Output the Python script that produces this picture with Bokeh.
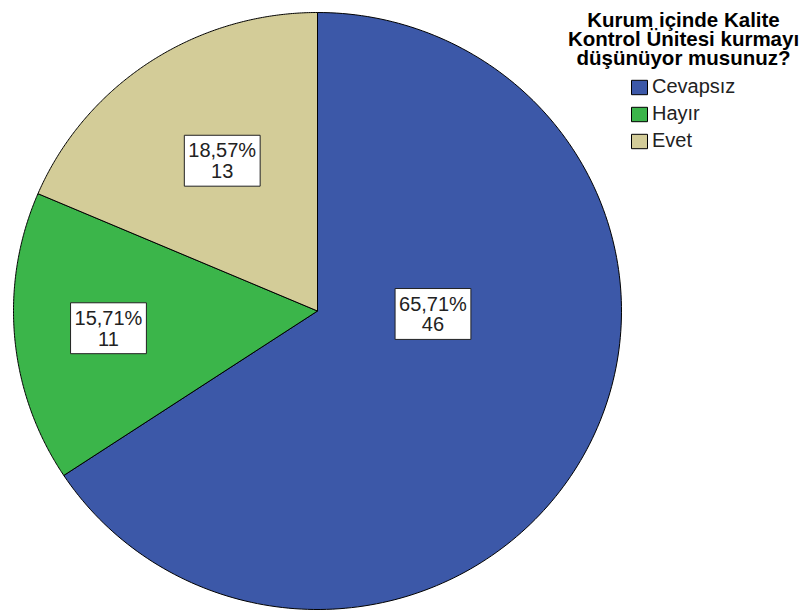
import numpy as np
from bokeh.plotting import figure
from bokeh.models import ColumnDataSource, Range1d, Legend, LegendItem
from bokeh.core.properties import value
from bokeh.embed import file_html
from bokeh.resources import INLINE

# ---- data ----
categories = ["Cevapsız", "Hayır", "Evet"]
counts = [46, 11, 13]
colors = ["#3C58A8", "#3BB54A", "#D3CC98"]
title_lines = ["Kurum içinde Kalite", "Kontrol Ünitesi kurmayı", "düşünüyor musunuz?"]

# ---- layout (pixel-like data space, y downward) ----
W, H = 802, 615
cx, cy, rx, ry = 317.0, 310.5, 304.0, 298.5
label_angle = [91.5, 265.2, 328.1]     # degrees clockwise from 12 o'clock
label_rfrac = [0.38, 0.69, 0.593]

p = figure(width=W, height=H, output_backend="svg", toolbar_location=None,
           x_range=Range1d(0, W), y_range=Range1d(H, 0),
           min_border=0, outline_line_color=None)
p.axis.visible = False
p.grid.visible = False
p.background_fill_color = "white"

total = float(sum(counts))
xs, ys = [], []
start = 0.0
for c in counts:
    sweep = 360.0 * c / total
    th = np.radians(np.linspace(start, start + sweep, 200))
    px = np.concatenate([[cx], cx + rx * np.sin(th), [cx]])
    py = np.concatenate([[cy], cy - ry * np.cos(th), [cy]])
    xs.append(px.tolist())
    ys.append(py.tolist())
    start += sweep

src = ColumnDataSource(dict(xs=xs, ys=ys, cat=categories, color=colors))
pr = p.patches("xs", "ys", source=src, fill_color="color", line_color="black",
               line_width=1)

# slice labels
lx, ly, lt = [], [], []
for c, a, f in zip(counts, label_angle, label_rfrac):
    ar = np.radians(a)
    lx.append(cx + f * rx * np.sin(ar))
    ly.append(cy - f * ry * np.cos(ar))
    pct = f"{100.0 * c / total:.2f}".replace(".", ",")
    lt.append(f"{pct}%\n{c}")
lsrc = ColumnDataSource(dict(x=lx, y=ly, t=lt))
p.text("x", "y", text="t", source=lsrc, text_align="center",
       text_baseline="middle", text_font=value("Liberation Sans"),
       text_font_size="20px", text_color="#222222", text_line_height=0.95,
       background_fill_color="white", border_line_color="#222222",
       border_line_width=1, padding=4)

# legend title
p.text(x=[683], y=[7], text=["\n".join(title_lines)], text_align="center",
       text_baseline="top", text_font=value("Liberation Sans"),
       text_font_style="bold", text_font_size="20.5px", text_color="black",
       text_line_height=0.84)

items = [LegendItem(label=categories[i], renderers=[pr], index=i)
         for i in range(len(categories))]
legend = Legend(items=items, location=(629, H - 82 - 70),
                glyph_width=20, glyph_height=18, label_height=18,
                label_standoff=3, spacing=4, padding=0, margin=0,
                label_text_font="Liberation Sans", label_text_font_size="20px",
                label_text_color="#222222", border_line_alpha=0,
                background_fill_alpha=0)
p.add_layout(legend, "center")

open("out.html", "w").write(file_html(p, INLINE))
